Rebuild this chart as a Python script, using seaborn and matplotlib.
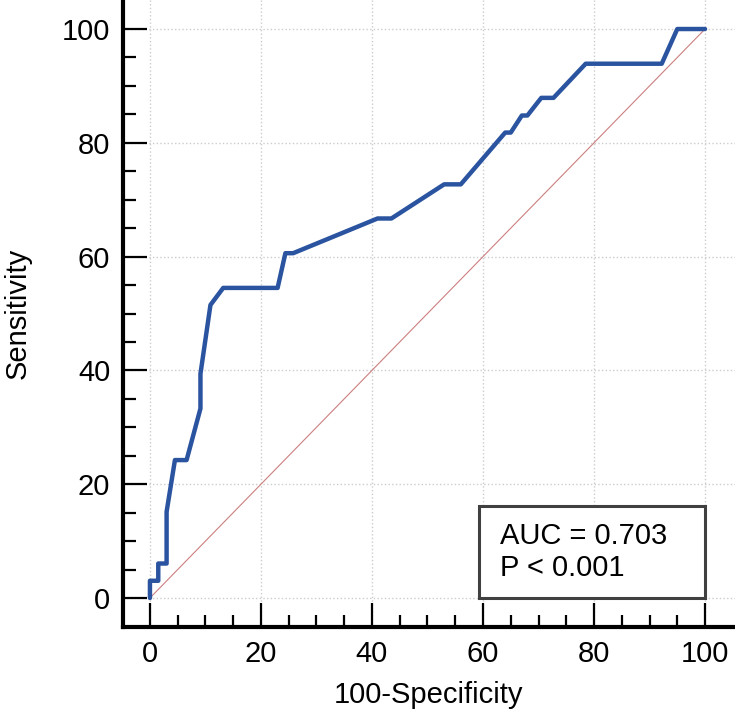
import pandas as pd
import matplotlib
matplotlib.use("Agg")
import matplotlib.pyplot as plt
import matplotlib.patches as mpatches
import seaborn as sns

# ROC curve points (100-Specificity, Sensitivity)
fpr = [0, 0, 1.5, 1.5, 3.0, 3.0, 4.5, 6.6, 9.1, 9.1, 10.9, 13.2, 23.0, 24.4, 25.8,
       41.0, 43.5, 53.0, 56.0, 64.0, 65.0, 67.0, 68.0, 70.5, 72.7, 78.5, 92.2, 95.0, 100]
tpr = [0, 3.03, 3.03, 6.06, 6.06, 15.15, 24.24, 24.24, 33.3, 39.4, 51.5, 54.5, 54.5, 60.6, 60.6,
       66.7, 66.7, 72.7, 72.7, 81.8, 81.8, 84.8, 84.8, 87.9, 87.9, 93.9, 93.9, 100, 100]
diag = [0, 100]
auc_text = "AUC = 0.703\nP < 0.001"

df = pd.DataFrame({"fpr": fpr, "tpr": tpr})

sns.set_style("whitegrid")
plt.rcParams['font.family'] = ['Liberation Sans', 'DejaVu Sans']
plt.rcParams['text.color'] = 'black'
plt.rcParams['axes.labelcolor'] = 'black'
plt.rcParams['xtick.color'] = 'black'
plt.rcParams['ytick.color'] = 'black'

fig = plt.figure(figsize=(7.35, 7.17), dpi=100)
ax = fig.add_axes([0.167, 0.1255, 0.833, 0.8745])

ax.plot(diag, diag, color='#cc7f7f', lw=0.8, zorder=2)
sns.lineplot(data=df, x='fpr', y='tpr', sort=False, color='#2b54a0', lw=3.2,
             estimator=None, ax=ax, zorder=3)

ax.set_xlim(-4.9, 105.4)
ax.set_ylim(-5.1, 105.1)
ax.set_xticks([t for t in range(0, 101, 20)])
ax.set_yticks([t for t in range(0, 101, 20)])
ax.set_xticks([t for t in range(0, 101, 5) if t % 20], minor=True)
ax.set_yticks([t for t in range(0, 101, 5) if t % 20], minor=True)

ax.grid(True, which='major', color='#cccccc', linestyle=':', lw=1.0)
ax.grid(False, which='minor')
ax.set_facecolor('white')

for s in ['top', 'right']:
    ax.spines[s].set_visible(False)
for s in ['left', 'bottom']:
    ax.spines[s].set_color('black')
    ax.spines[s].set_linewidth(3)

ax.tick_params(which='major', direction='in', length=17, width=1.6, color='black',
               labelsize=21, pad=9, bottom=True, left=True)
ax.tick_params(which='minor', direction='in', length=9, width=1.6, color='black',
               bottom=True, left=True)

ax.set_xlabel('100-Specificity', fontsize=21, labelpad=10)
ax.set_ylabel('Sensitivity', fontsize=21, labelpad=22)

box = mpatches.Rectangle((59.3, 0), 40.7, 16.2, fill=True, facecolor='white',
                         edgecolor='#404040', lw=2.2, zorder=4)
ax.add_patch(box)
ax.text(63.0, 8.1, auc_text, fontsize=21, va='center', ha='left',
        linespacing=1.2, zorder=5)

fig.savefig('out.png', dpi=100)
